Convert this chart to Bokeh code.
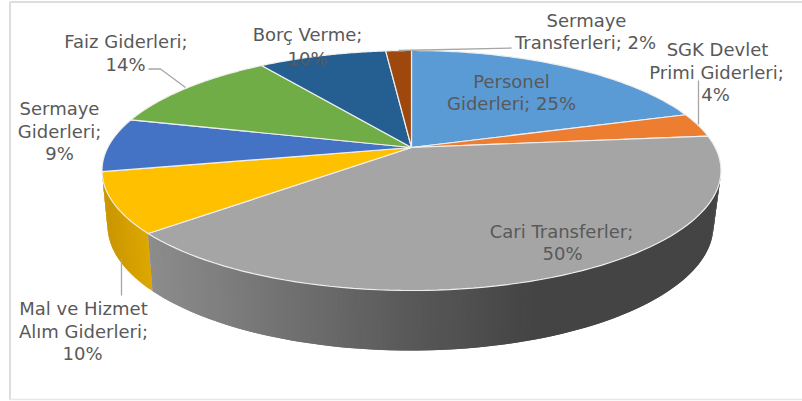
import numpy as np
from bokeh.plotting import figure
from bokeh.models import Range1d
from bokeh.core.properties import value
from bokeh.embed import file_html
from bokeh.resources import INLINE

categories = ["Personel Giderleri", "SGK Devlet Primi Giderleri", "Cari Transferler",
              "Mal ve Hizmet Alım Giderleri", "Sermaye Giderleri", "Faiz Giderleri",
              "Borç Verme", "Sermaye Transferleri"]
values = [25, 4, 50, 10, 9, 14, 10, 2]
colors = ["#5B9BD5", "#ED7D31", "#A5A5A5", "#FFC000", "#4472C4", "#70AD47", "#255E91", "#9E480E"]

label_text = ["Faiz Giderleri;", "14%", "Borç Verme;", "10%", "Sermaye", "Giderleri;", "9%",
              "Sermaye", "Transferleri; 2%", "SGK Devlet", "Primi Giderleri;", "4%",
              "Personel", "Giderleri; 25%", "Cari Transferler;", "50%",
              "Mal ve Hizmet", "Alım Giderleri;", "10%"]
label_x = [125.5, 125, 307, 307, 59, 59, 59, 586, 585, 717, 716, 715, 511, 511, 561, 562, 83, 83, 82]
label_y = [41, 64, 34, 58, 108, 131, 153, 20, 42, 49, 72, 94, 81, 103, 231, 253, 308, 331, 353]

CX, CY, RX, RY = 410.0, 170.0, 309.5, 120.0
BX, BY, BRX, BRY = 410.0, 225.0, 303.0, 125.0
V0 = 23.0 / 120.0


def persp(theta):
    s, c = np.sin(theta), np.cos(theta)
    d = 1 + V0 * c
    return s * np.sqrt(1 - V0 ** 2) / d, (c + V0) / d


def top_xy(theta):
    nx, ny = persp(theta)
    return 411 + (nx * RX), CY - ny * RY


def phi_of(theta):
    nx, ny = persp(theta)
    return np.arctan2(nx, ny) % (2 * np.pi)


cum = np.concatenate([[0], np.cumsum(values)]) / sum(values) * 2 * np.pi

p = figure(width=802, height=401, x_range=Range1d(0, 802), y_range=Range1d(401, 0),
           toolbar_location=None, output_backend="svg", min_border=0)
p.axis.visible = False
p.grid.visible = False
p.outline_line_color = None
p.background_fill_color = "white"

# frame
p.line([9.5, 9.5, 802], [399, 1.5, 1.5], line_color="#DDDDDD", line_width=2)
p.line([9, 802], [399, 399], line_color="#E6E6E6", line_width=1.5)


def strip_color(x, stops):
    xs = [s[0] for s in stops]
    return "#%02x%02x%02x" % tuple(int(round(np.interp(x, xs, [s[1][i] for s in stops]))) for i in range(3))


gray_stops = [(150, (140, 140, 140)), (400, (90, 90, 90)), (530, (68, 68, 68)), (720, (68, 68, 68))]
gold_stops = [(101, (200, 148, 0)), (150, (222, 168, 0))]


def wall(phi_a, phi_b, stops, n):
    ph = np.linspace(phi_a, phi_b, n + 1)
    step = ph[1] - ph[0]
    # each strip overlaps the next, so that no seams show between them
    for a in ph[:-1]:
        b = min(a + 2 * step, phi_b)
        xs = [411 + RX * np.sin(a), 411 + RX * np.sin(b), BX + BRX * np.sin(b), BX + BRX * np.sin(a)]
        ys = [CY - RY * np.cos(a), CY - RY * np.cos(b), BY - BRY * np.cos(b), BY - BRY * np.cos(a)]
        p.patch(xs, ys, fill_color=strip_color(np.mean(xs), stops), line_color=None)


phi_gray_end = phi_of(cum[3])
wall(phi_gray_end, 1.5 * np.pi, gold_stops, 30)
wall(np.pi / 2, phi_gray_end, gray_stops, 140)

# top faces
for i, col in enumerate(colors):
    t = np.linspace(cum[i], cum[i + 1], 80)
    x, y = top_xy(t)
    xs = np.concatenate([[411.0], x])
    ys = np.concatenate([[147.0], y])
    p.patch(xs, ys, fill_color=col, line_color="#EFEFEF", line_width=1.2)

# leader lines
leader = "#A6A6A6"
p.line([148, 160, 185], [68.5, 68.5, 87], line_color=leader, line_width=1.3)
p.line([398, 511], [50, 47.5], line_color=leader, line_width=1.3)
p.line([698, 698], [80, 124], line_color=leader, line_width=1.3)
p.line([121, 121], [258, 295], line_color=leader, line_width=1.3)

p.text(label_x, label_y, text=label_text, text_font=value("DejaVu Sans"), text_font_size="18px",
       text_color="#595959", text_align="center", text_baseline="middle")

html = file_html(p, INLINE)
open("out.html", "w").write(html)
